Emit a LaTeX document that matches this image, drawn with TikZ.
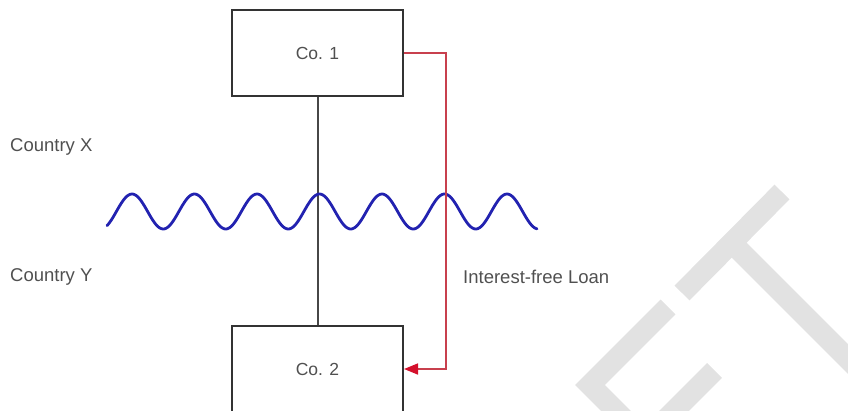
\documentclass[tikz,border=0pt]{standalone}
\usepackage{fontspec}
\setmainfont{Liberation Sans}
\usetikzlibrary{arrows.meta}
\definecolor{boxline}{HTML}{333333}
\definecolor{txt}{HTML}{505050}
\definecolor{loanred}{HTML}{C8404E}
\definecolor{tipred}{HTML}{D4102C}
\definecolor{waveblue}{HTML}{2222B0}
\definecolor{wm}{HTML}{E2E2E2}
\tikzset{
  company/.style={draw=boxline, line width=2pt, fill=white, minimum width=171pt, minimum height=86pt, inner sep=0pt, font=\fontsize{17.5}{20}\selectfont, text=txt},
  lbl/.style={anchor=west, inner sep=0pt, font=\fontsize{18.5}{21}\selectfont, text=txt},
  link/.style={draw=boxline!90, line width=2pt},
  loan/.style={draw=loanred, line width=1.6pt, -{Triangle[length=14pt,width=11pt,color=tipred]}},
  wave/.style={draw=waveblue, line width=2.8pt, line cap=round},
  mark wm/.style={draw=wm, line width=21pt, line cap=butt, line join=miter}
}
\begin{document}
\begin{tikzpicture}[x=1pt,y=-1pt]
\useasboundingbox (0,0) rectangle (848,410);
\clip (0,0) rectangle (848,410);
% watermark
\draw[mark wm] (782,192) -- (682,293);
\draw[mark wm] (731.5,242.5) -- (900,411);
\draw[mark wm] (668,307) -- (590,385) -- (650,445);
\draw[mark wm] (714.5,370.5) -- (660,425);
% companies
\node[company] (co1) at (317.5,53) {Co. 1};
\node[company] (co2) at (317.5,369) {Co. 2};
\draw[link] (co1.south) -- (co2.north);
% wave
\draw[wave, domain=107:537, samples=300, smooth] plot (\x, {211.5-17.5*cos(5.76*(\x-132))});
% loan
\coordinate (turn) at (446,53);
\draw[loan] (co1.east) -- (turn) |- (co2.east);
% labels
\node[lbl] (cx) at (10,147) {Country X};
\node[lbl] (cy) at (10,277) {Country Y};
\node[lbl] (il) at (463,277) {Interest-free Loan};
\end{tikzpicture}
\end{document}
